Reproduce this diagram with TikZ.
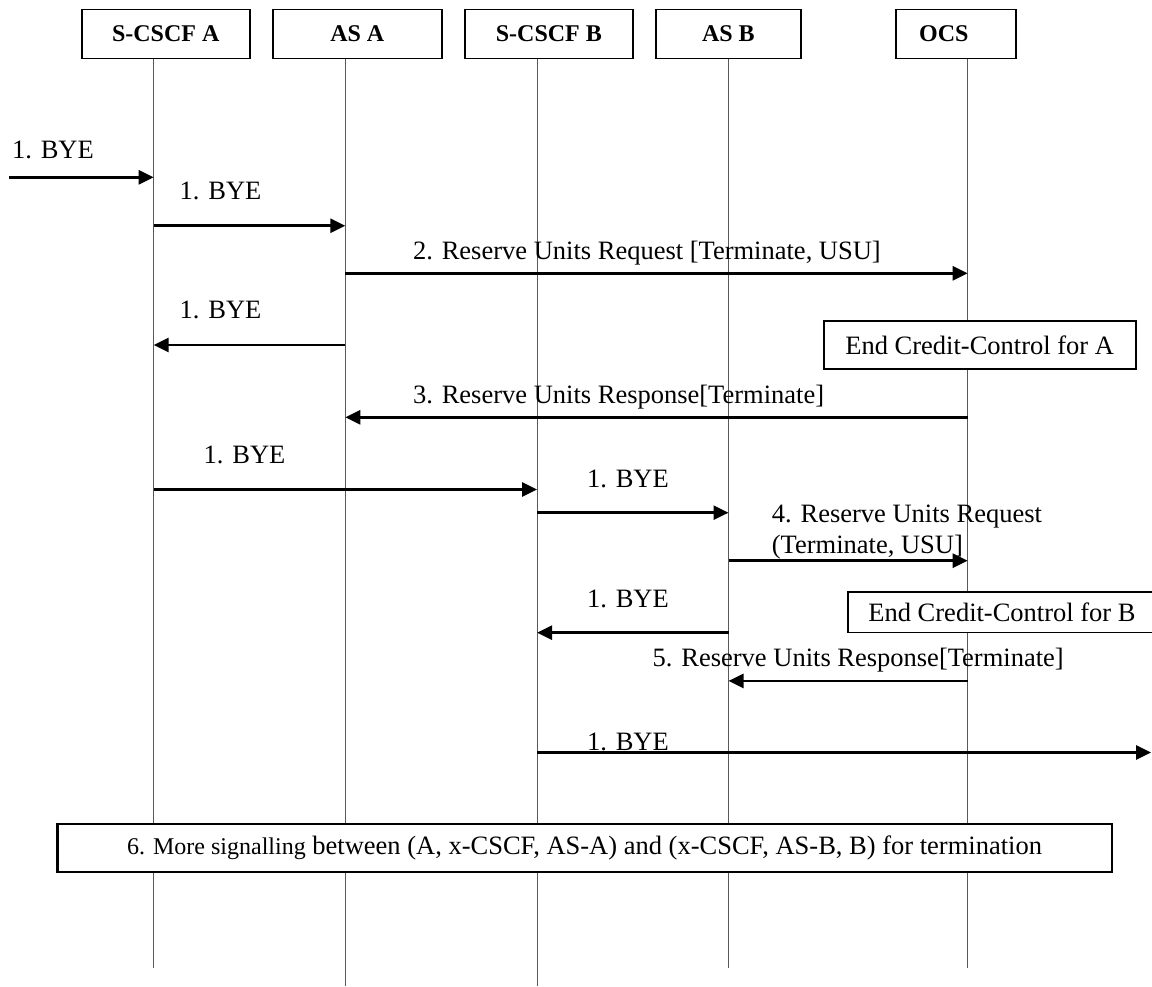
\documentclass[tikz,border=0pt]{standalone}
\usepackage{fontspec}
\setmainfont{Liberation Serif}
\usetikzlibrary{arrows.meta}
\tikzset{
    entity/.style={draw, line width=0.9pt, minimum height=24.5pt, inner sep=0pt,
                   font=\fontsize{12pt}{14pt}\selectfont\bfseries},
    lifeline/.style={line width=0.5pt, black!65},
    msg/.style={-{Triangle[length=7.5pt, width=7pt]}, line width=1.35pt},
    lbl/.style={anchor=base west, inner sep=0pt,
                font=\fontsize{13.25pt}{15.15pt}\selectfont},
    note/.style={draw, fill=white, line width=0.8pt, inner sep=0pt,
                 font=\fontsize{13.25pt}{15.15pt}\selectfont},
}

\begin{document}
\begin{tikzpicture}[x=0.5pt, y=-0.5pt]
    \useasboundingbox (0,0) rectangle (1152,986);

    \node[entity, minimum width=84.1pt] (scscfA) at (165.7,34) {S-CSCF A};
    \node[entity, minimum width=84.3pt] (asA) at (357.3,34) {AS A};
    \node[entity, minimum width=84.2pt] (scscfB) at (548.9,34) {S-CSCF B};
    \node[entity, minimum width=72.4pt] (asB) at (728.4,34) {AS B};
    \node[entity, minimum width=60.2pt] (ocs) at (955.8,34) {\hspace*{-12pt}OCS};

    \coordinate (saEnd) at (153.6,968);
    \coordinate (asaEnd) at (345.3,986);
    \coordinate (sbEnd) at (537,986);
    \coordinate (asbEnd) at (728.5,968);
    \coordinate (ocsEnd) at (967.7,968);
    \draw[lifeline] (scscfA.south -| saEnd) -- (saEnd);
    \draw[lifeline] (asA.south -| asaEnd) -- (asaEnd);
    \draw[lifeline] (scscfB.south -| sbEnd) -- (sbEnd);
    \draw[lifeline] (asB.south -| asbEnd) -- (asbEnd);
    \draw[lifeline] (ocs.south -| ocsEnd) -- (ocsEnd);

    \coordinate (byeIn) at (9.3,177.3);
    \draw[msg] (byeIn) -- (byeIn -| saEnd);
    \node[lbl] (l1) at (11.7,158) {1. BYE};

    \coordinate (y2) at (0,225.7);
    \draw[msg] (y2 -| saEnd) -- (y2 -| asaEnd);
    \node[lbl] (l2) at (179.3,199.3) {1. BYE};

    \coordinate (y3) at (0,273.3);
    \draw[msg] (y3 -| asaEnd) -- (y3 -| ocsEnd);
    \node[lbl] (l3) at (412.7,259.3) {2. Reserve Units Request [Terminate, USU]};

    \coordinate (y4) at (0,345);
    \draw[msg] (y4 -| asaEnd) -- (y4 -| saEnd);
    \node[lbl] (l4) at (179.3,318.7) {1. BYE};

    \node[note, minimum width=156pt, minimum height=24.15pt] (ccA) at (979.7,344.85)
        {End Credit-Control for A};

    \coordinate (y5) at (0,417.3);
    \draw[msg] (y5 -| ocsEnd) -- (y5 -| asaEnd);
    \node[lbl] (l5) at (412.7,403.3) {3. Reserve Units Response[Terminate]};

    \coordinate (y6) at (0,489.5);
    \draw[msg] (y6 -| saEnd) -- (y6 -| sbEnd);
    \node[lbl] (l6) at (203.3,463.3) {1. BYE};

    \coordinate (y7) at (0,512.7);
    \draw[msg] (y7 -| sbEnd) -- (y7 -| asbEnd);
    \node[lbl] (l7) at (586.7,487) {1. BYE};

    \coordinate (y8) at (0,560.7);
    \draw[msg] (y8 -| asbEnd) -- (y8 -| ocsEnd);
    \node[lbl] (l8a) at (771.5,522.7) {4. Reserve Units Request};
    \node[lbl] (l8b) at (771.5,553) {(Terminate, USU]};

    \coordinate (y9) at (0,632.7);
    \draw[msg] (y9 -| asbEnd) -- (y9 -| sbEnd);
    \node[lbl] (l9) at (586.7,607.7) {1. BYE};

    \node[note, minimum width=154pt, minimum height=20.25pt] (ccB) at (1002,612.25)
        {End Credit-Control for B};

    \coordinate (y10) at (0,680.9);
    \draw[msg] (y10 -| ocsEnd) -- (y10 -| asbEnd);
    \node[lbl] (l10) at (652.3,666) {5. Reserve Units Response[Terminate]};

    \coordinate (byeOut) at (1151,752.5);
    \draw[msg] (byeOut -| sbEnd) -- (byeOut);
    \node[lbl] (l11) at (586.7,750) {1. BYE};

    \node[note, line width=1.1pt, minimum width=527.1pt, minimum height=23.85pt] (more)
        at (584.6,847.85) {{\fontsize{12pt}{14pt}\selectfont 6. More signalling} between
        (A, x-CSCF, AS-A) and (x-CSCF, AS-B, B) for termination};

\end{tikzpicture}
\end{document}
